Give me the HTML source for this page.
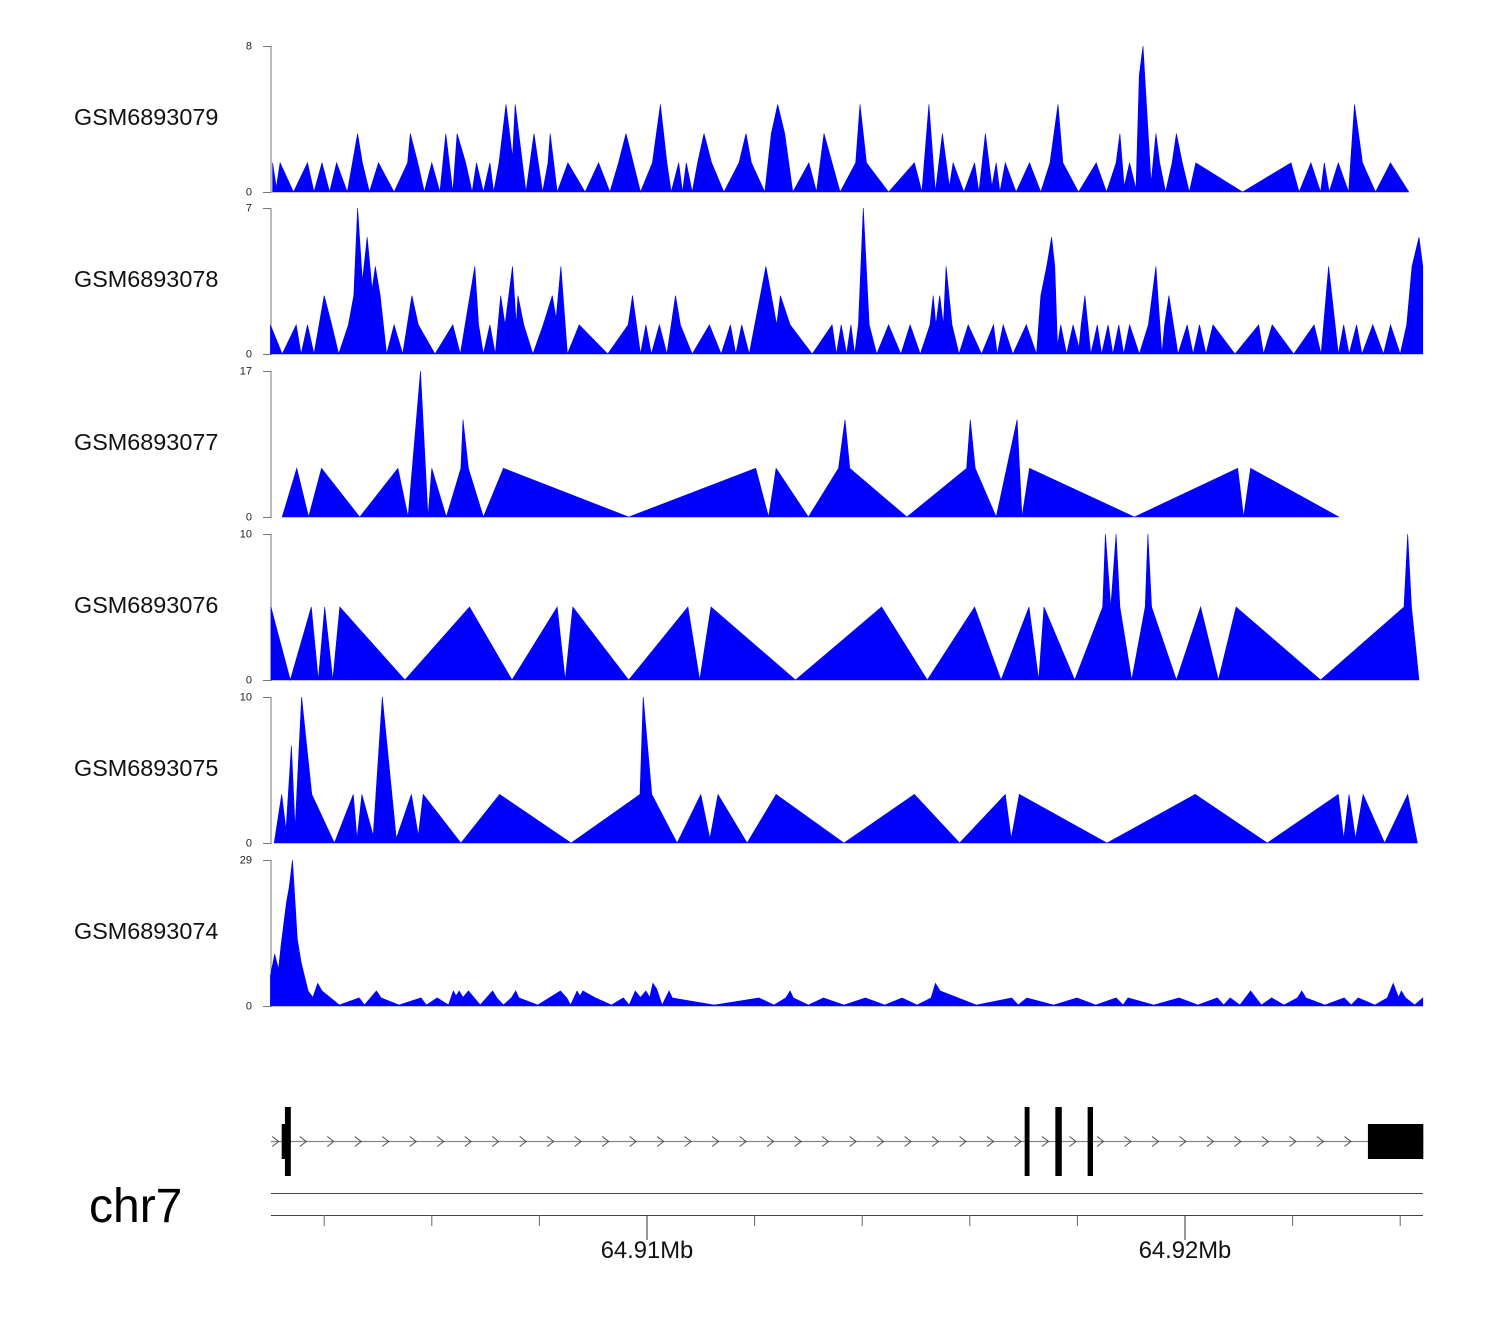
<!DOCTYPE html>
<html>
<head>
<meta charset="utf-8">
<style>
  html, body { margin:0; padding:0; background:#fff; }
  svg { display:block; font-family:"Liberation Sans", Arial, sans-serif; }
</style>
</head>
<body>
<svg id="chart" width="1500" height="1320" viewBox="0 0 1500 1320" xmlns="http://www.w3.org/2000/svg">
  <rect x="0" y="0" width="1500" height="1320" fill="#fff"/>
  <g id="tracks"></g>
  <g id="gene"></g>
  <g id="axis"></g>
  <text x="89" y="1222" font-size="48" fill="#000">chr7</text>
</svg>
<script>
// ---- data (positions in kb from 64,900 kb on chr7) ----
const trackNames = ["GSM6893079","GSM6893078","GSM6893077","GSM6893076","GSM6893075","GSM6893074"];
const trackMax = [8, 7, 17, 10, 10, 29];

const pos1 = [3.04,3.11,3.18,3.43,3.69,3.81,3.96,4.10,4.23,4.43,4.62,4.71,4.84,5.01,5.30,5.55,5.60,5.74,5.86,6.00,6.15,6.26,6.39,6.47,6.63,6.75,6.83,6.96,7.08,7.15,7.25,7.38,7.50,7.55,7.75,7.90,8.06,8.16,8.20,8.33,8.53,8.85,9.10,9.31,9.47,9.61,9.88,10.10,10.25,10.37,10.45,10.59,10.66,10.73,10.84,10.94,11.06,11.20,11.43,11.71,11.84,11.94,12.19,12.31,12.43,12.56,12.71,13.01,13.15,13.22,13.29,13.59,13.88,13.96,14.08,14.49,14.97,15.11,15.24,15.36,15.49,15.62,15.69,15.89,16.09,16.17,16.29,16.41,16.49,16.56,16.66,16.86,17.11,17.32,17.49,17.64,17.73,18.02,18.35,18.54,18.72,18.79,18.87,18.97,19.09,19.15,19.22,19.37,19.46,19.53,19.64,19.76,19.84,19.95,20.08,20.20,21.07,21.97,22.12,22.34,22.52,22.59,22.68,22.85,23.04,23.15,23.30,23.54,23.82,24.16];
const val1 = [1.6,0.24,1.6,0,1.6,0,1.6,0,1.6,0,3.2,1.6,0,1.6,0,1.6,3.2,1.6,0,1.6,0,3.2,0,3.2,1.6,0,1.6,0,1.6,0,1.6,4.8,1.9,4.8,0,3.2,0,1.6,3.2,0,1.6,0,1.6,0,1.6,3.2,0,1.6,4.8,1.6,0,1.6,0,1.6,0,1.6,3.2,1.6,0,1.6,3.2,1.6,0,3.2,4.8,3.2,0,1.6,0,1.6,3.2,0,1.6,4.8,1.6,0,1.6,0,4.8,0,3.2,0.3,1.6,0,1.6,0,3.2,0.3,1.6,0,1.6,0,1.6,0,1.6,4.8,1.6,0,1.6,0,1.6,3.2,0.3,1.6,0.16,6.4,8,0.5,3.2,1.6,0,1.6,3.2,1.6,0,1.6,0,1.6,0,1.6,0,1.6,0,1.6,0,4.8,1.6,0,1.6,0];

const pos2 = [3.00,3.22,3.48,3.57,3.69,3.81,4.00,4.14,4.27,4.45,4.55,4.62,4.71,4.80,4.89,4.95,5.04,5.16,5.30,5.46,5.63,5.75,6.06,6.39,6.53,6.80,6.87,6.96,7.08,7.18,7.28,7.36,7.50,7.57,7.60,7.71,7.88,8.07,8.24,8.31,8.40,8.52,8.74,9.27,9.65,9.73,9.88,9.98,10.08,10.23,10.37,10.53,10.62,10.84,11.16,11.38,11.55,11.65,11.76,11.90,12.21,12.41,12.48,12.66,13.07,13.44,13.52,13.61,13.71,13.79,13.86,13.93,14.02,14.13,14.27,14.49,14.72,14.89,15.08,15.26,15.32,15.37,15.44,15.51,15.56,15.67,15.80,15.97,16.22,16.44,16.51,16.62,16.80,17.05,17.24,17.32,17.43,17.52,17.58,17.63,17.69,17.80,17.92,18.03,18.07,18.14,18.25,18.37,18.45,18.57,18.66,18.77,18.86,18.97,19.15,19.32,19.39,19.46,19.57,19.62,19.70,19.87,20.04,20.15,20.27,20.39,20.52,20.93,21.37,21.46,21.62,22.02,22.40,22.53,22.67,22.79,22.85,22.95,23.05,23.19,23.29,23.49,23.69,23.82,24.00,24.12,24.22,24.35,24.42];
const val2 = [1.4,0,1.4,0,1.4,0,2.8,1.4,0,1.4,2.8,7,3.5,5.6,3.1,4.2,2.8,0,1.4,0,2.8,1.4,0,1.4,0,4.2,1.4,0,1.4,0,2.8,1.4,4.2,1.4,2.8,1.4,0,1.4,2.8,1.7,4.2,0,1.4,0,1.4,2.8,0,1.4,0,1.4,0,2.8,1.4,0,1.4,0,1.4,0,1.4,0,4.2,1.4,2.8,1.4,0,1.4,0,1.4,0,1.4,0,1.4,7,1.4,0,1.4,0,1.4,0,1.4,2.8,1.4,2.8,1.4,4.2,1.4,0,1.4,0,1.4,0,1.4,0,1.4,0,2.8,4.2,5.6,4.2,0.4,1.4,0,1.4,0.3,1.4,2.8,0,1.4,0,1.4,0,1.4,0,1.4,0,1.4,2.8,4.2,0,1.4,2.8,0,1.4,0,1.4,0,1.4,0,1.4,0,1.4,0,1.4,0,4.2,1.4,0,1.4,0,1.4,0,1.4,0,1.4,0,1.4,4.2,5.6,4.2];

const pos3 = [3.22,3.49,3.71,3.95,4.66,5.37,5.56,5.79,5.93,6.00,6.27,6.54,6.58,6.68,6.96,7.33,9.66,12.02,12.26,12.40,13.00,13.56,13.68,13.77,14.83,15.94,16.01,16.10,16.49,16.88,16.97,17.11,19.06,20.98,21.09,21.22,22.86];
const val3 = [0,5.67,0,5.67,0,5.67,0,17,0,5.67,0,5.67,11.33,5.67,0,5.67,0,5.67,0,5.67,0,5.67,11.33,5.67,0,5.67,11.33,5.67,0,11.33,0,5.67,0,5.67,0,5.67,0];

const pos4 = [3.01,3.37,3.76,3.89,4.01,4.16,4.29,5.50,6.70,7.49,8.33,8.48,8.62,9.66,10.76,10.98,11.19,12.76,14.36,15.21,16.09,16.58,17.10,17.28,17.38,17.95,18.47,18.52,18.62,18.72,18.79,19.01,19.26,19.31,19.38,19.84,20.29,20.62,20.95,22.52,24.07,24.14,24.21,24.35];
const val4 = [5,0,5,0,5,0,5,0,5,0,5,0,5,0,5,0,5,0,5,0,5,0,5,0,5,0,5,10,5,10,5,0,5,10,5,0,5,0,5,0,5,10,5,0];

const pos5 = [3.07,3.21,3.29,3.39,3.46,3.58,3.77,4.19,4.54,4.61,4.70,4.91,5.08,5.34,5.62,5.75,5.84,6.54,7.26,8.59,9.87,9.93,10.09,10.56,11.00,11.17,11.32,11.86,12.40,13.66,14.97,15.81,16.66,16.77,16.92,18.55,20.19,21.53,22.85,22.95,23.05,23.17,23.31,23.71,24.14,24.32];
const val5 = [0,3.33,0.9,6.67,1,10,3.33,0,3.33,0.3,3.33,0.5,10,0.3,3.33,0.5,3.33,0,3.33,0,3.33,10,3.33,0,3.33,0.3,3.33,0,3.33,0,3.33,0,3.33,0.3,3.33,0,3.33,0,3.33,0.3,3.33,0.3,3.33,0,3.33,0];

const pos6 = [3.00,3.08,3.15,3.20,3.30,3.35,3.41,3.50,3.57,3.70,3.79,3.88,3.96,4.28,4.65,4.75,4.97,5.06,5.39,5.80,5.90,6.10,6.31,6.40,6.45,6.51,6.58,6.68,6.90,7.13,7.21,7.33,7.48,7.56,7.62,7.97,8.39,8.51,8.58,8.70,8.75,8.81,9.04,9.34,9.56,9.67,9.78,9.88,9.98,10.05,10.11,10.18,10.28,10.41,10.47,11.25,12.08,12.36,12.58,12.66,12.72,13.00,13.28,13.66,14.06,14.42,14.74,15.02,15.28,15.36,15.45,16.12,16.78,16.90,17.06,17.56,17.99,18.34,18.72,18.85,18.94,19.42,19.89,20.24,20.60,20.72,20.84,21.02,21.22,21.42,21.61,21.84,22.09,22.17,22.25,22.60,22.96,23.09,23.22,23.53,23.76,23.87,23.97,24.02,24.10,24.27,24.42];
const val6 = [6.0,10.3,7.3,12.3,20.6,23.6,29,13.3,8.7,3.0,1.7,4.5,3.0,0.2,1.6,0.2,3.0,1.6,0.2,1.6,0.2,1.6,0.2,3.0,2.0,3.0,1.7,3.0,0.2,3.0,1.6,0.2,1.6,3.0,1.6,0.2,3.0,1.6,0.2,3.0,2.0,3.0,1.6,0.2,1.6,0.2,3.0,1.7,3.0,1.7,4.5,3.4,0.2,3.0,1.6,0.2,1.6,0.2,1.6,3.0,1.6,0.2,1.6,0.2,1.6,0.2,1.6,0.2,1.6,4.5,3.0,0.2,1.6,0.2,1.6,0.2,1.6,0.2,1.6,0.2,1.6,0.2,1.6,0.2,1.6,0.2,1.6,0.2,3.0,0.2,1.6,0.2,1.6,3.0,1.6,0.2,1.6,0.2,1.6,0.2,1.6,4.5,1.7,3.0,1.6,0.2,1.6];

// gene model (kb)
const exonStarts = [3.21, 3.27, 17.02, 17.59, 18.19, 23.40];
const exonEnds   = [3.28, 3.38, 17.11, 17.71, 18.29, 24.43];
const exonKind   = ["utr","cds","cds","cds","cds","utr"];
const geneStart = 3.01, geneEnd = 24.43;
// axis ticks (kb)
const minorTicks = [4,6,8,12,14,16,18,22,24];
const majorTicks = [10,20];
const majorLabels = ["64.91Mb","64.92Mb"];

// ---- scales ----
const X0 = 109, PX_PER_KB = 53.8;
function xs(kb){ return X0 + kb * PX_PER_KB; }
const trackTop = [46,208,371,534,697,860];
const TRACK_H = 146;
function ys(t, v){ return trackTop[t] + TRACK_H - (v / trackMax[t]) * TRACK_H; }

const NS = "http://www.w3.org/2000/svg";
function mk(tag, attrs, parent){
  const e = document.createElementNS(NS, tag);
  for (const k in attrs) e.setAttribute(k, attrs[k]);
  parent.appendChild(e);
  return e;
}

const tracksG = document.getElementById('tracks');
const allPos = [pos1,pos2,pos3,pos4,pos5,pos6];
const allVal = [val1,val2,val3,val4,val5,val6];
const axisColor = "#777";

for (let t = 0; t < 6; t++){
  const g = mk('g', {}, tracksG);
  
  
  const base = trackTop[t] + TRACK_H;
  const lab = mk('text', {x:74, y:trackTop[t] + TRACK_H/2 + 6, 'font-size':23.4, fill:'#111'}, g);
  lab.textContent = trackNames[t];
  
  
  const ax = mk('path', {d:`M263 ${trackTop[t]+0.5} H271 V${base+0.5} H263`, fill:'none', stroke:axisColor, 'stroke-width':1}, g);
  
  
  const tTop = mk('text', {x:252, y:trackTop[t]+3.5, 'font-size':11, 'text-anchor':'end', fill:'#222'}, g);
  tTop.textContent = String(trackMax[t]);
  
  
  const tBot = mk('text', {x:252, y:base+3.5, 'font-size':11, 'text-anchor':'end', fill:'#222'}, g);
  tBot.textContent = "0";
  
  
  const P = allPos[t], V = allVal[t];
  let d = `M${xs(P[0]).toFixed(1)} ${base}`;
  for (let i = 0; i < P.length; i++) d += ` L${xs(P[i]).toFixed(1)} ${ys(t, V[i]).toFixed(1)}`;
  d += ` L${xs(P[P.length-1]).toFixed(1)} ${base} Z`;
  const area = mk('path', {d:d, fill:'#0000ff', stroke:'#0000ff', 'stroke-width':0.6, 'stroke-linejoin':'miter'}, g);
  
  
}

// ---- gene model ----
const geneG = document.getElementById('gene');
const GY = 1141.5;
const line = mk('line', {x1:xs(geneStart), y1:GY, x2:xs(geneEnd), y2:GY, stroke:'#888', 'stroke-width':1.2}, geneG);


for (let k = 3.10; k < 23.30; k += 0.511){
  const x = xs(k);
  const ch = mk('path', {d:`M${x-3.5} ${GY-5} L${x+3} ${GY} L${x-3.5} ${GY+5}`, fill:'none', stroke:'#444', 'stroke-width':0.9}, geneG);
  
  
}
for (let i = 0; i < exonStarts.length; i++){
  const h = exonKind[i] === 'utr' ? 35 : 69;
  const r = mk('rect', {x:xs(exonStarts[i]), y:GY - h/2, width:Math.max(4, xs(exonEnds[i]) - xs(exonStarts[i])), height:h, fill:'#000'}, geneG);
  
  
}

// ---- genome axis ----
const axG = document.getElementById('axis');
const l1 = mk('line', {x1:271, y1:1193.5, x2:1423, y2:1193.5, stroke:'#444', 'stroke-width':1}, axG);


const l2 = mk('line', {x1:271, y1:1215.5, x2:1423, y2:1215.5, stroke:'#444', 'stroke-width':1}, axG);


for (const k of minorTicks){
  const tk = mk('line', {x1:xs(k), y1:1215, x2:xs(k), y2:1226, stroke:'#666', 'stroke-width':1}, axG);
  
  
}
for (let i = 0; i < majorTicks.length; i++){
  const x = xs(majorTicks[i]);
  const tk = mk('line', {x1:x, y1:1215, x2:x, y2:1240, stroke:'#333', 'stroke-width':1}, axG);
  
  
  const tl = mk('text', {x:x, y:1258, 'font-size':23.8, 'text-anchor':'middle', fill:'#111'}, axG);
  tl.textContent = majorLabels[i];
  
  
}
</script>
</body>
</html>
